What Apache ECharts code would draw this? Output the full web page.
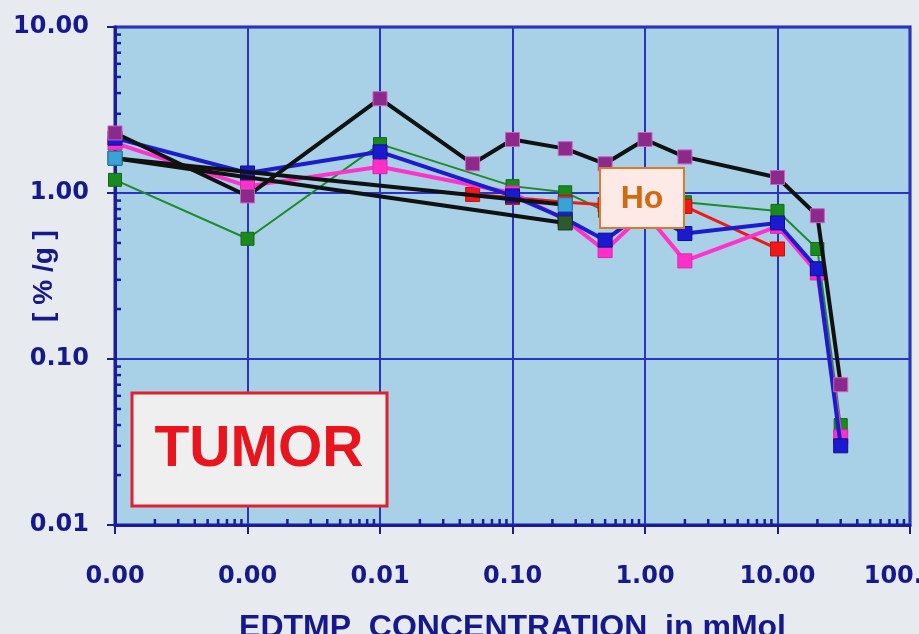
<!DOCTYPE html>
<html>
<head>
<meta charset="utf-8">
<script src="https://cdn.jsdelivr.net/npm/echarts@6/dist/echarts.min.js"></script>
<style>
html,body{margin:0;padding:0;background:#e7ebef;}
#chart{width:919px;height:634px;}
</style>
</head>
<body>
<div id="chart"></div>
<script>
// ---- data ----
const xTickLabels = ['0.00','0.00','0.01','0.10','1.00','10.00','100.00'];
const xAxisTitle = 'EDTMP  CONCENTRATION  in mMol';
const yAxisTitle = '[ % /g ]';

const purpleX = [0.0001, 0.001, 0.01, 0.05, 0.1, 0.25, 0.5, 1, 2, 10, 20, 30];
const purpleY = [2.3, 0.96, 3.7, 1.5, 2.1, 1.85, 1.5, 2.1, 1.65, 1.24, 0.73, 0.070];

const greenX = [0.0001, 0.001, 0.01, 0.1, 0.25, 0.5, 1, 2, 10, 20, 30];
const greenY = [1.2, 0.53, 1.97, 1.1, 1.01, 0.78, 1.3, 0.88, 0.78, 0.46, 0.040];

const blueX = [0.0001, 0.001, 0.01, 0.1, 0.25, 0.5, 1, 2, 10, 20, 30];
const blueY = [2.14, 1.32, 1.77, 0.96, 0.70, 0.52, 0.78, 0.57, 0.66, 0.35, 0.030];

const pinkX = [0.0001, 0.001, 0.01, 0.1, 0.25, 0.5, 1, 2, 10, 20, 30];
const pinkY = [2.0, 1.1, 1.44, 1.0, 0.69, 0.45, 0.76, 0.39, 0.63, 0.33, 0.034];

const redX = [0.05, 0.1, 0.25, 0.5, 1, 2, 10];
const redY = [0.98, 0.94, 0.88, 0.85, 0.87, 0.83, 0.46];

const blackAX = [0.0001, 0.25];
const blackAY = [1.62, 0.66];

const blackBX = [0.0001, 0.25];
const blackBY = [1.62, 0.85];

// minor tick positions (axis decoration)
const decades = [0.0001, 0.001, 0.01, 0.1, 1, 10];
const minorMult = [2, 3, 4, 5, 6, 7, 8, 9];
const xMinor = [];
decades.forEach(d => minorMult.forEach(m => xMinor.push(d * m)));
const yDecades = [0.01, 0.1, 1];
const yMinor = [];
yDecades.forEach(d => minorMult.forEach(m => yMinor.push(d * m)));

// ---- styling ----
const axisColor = '#1a1c9c';
const gridColor = '#2a34c4';
const labelColor = '#16198c';
const FONT = 'DejaVu Sans';
const TFONT = 'Liberation Sans';

function pairs(xs, ys){ return xs.map((x,i)=>[x, ys[i]]); }

function lineSeries(name, xs, ys, lineColor, lw, markColor, markBorder, size, z){
  return {
    name, type:'line', data: pairs(xs, ys),
    symbol:'rect', symbolSize:size, showSymbol:true,
    lineStyle:{color:lineColor, width:lw},
    itemStyle:{color:markColor, borderColor:markBorder, borderWidth:1, opacity:1},
    z, animation:false, silent:true
  };
}

const chart = echarts.init(document.getElementById('chart'), null, {renderer:'canvas'});

const option = {
  backgroundColor:'#e7ebef',
  animation:false,
  grid:{left:115, right:9, top:27, bottom:109, containLabel:false, outerBoundsMode:'none',
    show:true, backgroundColor:'#a8d0e6', borderColor:axisColor, borderWidth:3},
  xAxis:{
    type:'log', logBase:10, min:0.0001, max:100,
    name:xAxisTitle, nameLocation:'middle', nameGap:87, nameMoveOverlap:false,
    nameTextStyle:{color:labelColor, fontFamily:TFONT, fontWeight:'bold', fontSize:32},
    axisLine:{show:true, lineStyle:{color:axisColor, width:3}},
    axisTick:{show:true, inside:false, length:9, lineStyle:{color:axisColor, width:2}},
    axisLabel:{color:labelColor, fontFamily:FONT, fontWeight:'bold', fontSize:24, margin:40,
      hideOverlap:false,
      formatter:(v, i)=> xTickLabels[i] !== undefined ? xTickLabels[i] : ''},
    splitLine:{show:true, lineStyle:{color:gridColor, width:2}}
  },
  yAxis:{
    type:'log', logBase:10, min:0.01, max:10,
    name:yAxisTitle, nameLocation:'middle', nameGap:57, nameRotate:90, nameMoveOverlap:false,
    nameTextStyle:{color:labelColor, fontFamily:TFONT, fontWeight:'bold', fontSize:28},
    axisLine:{show:true, lineStyle:{color:axisColor, width:3}},
    axisTick:{show:true, inside:false, length:8, lineStyle:{color:axisColor, width:2}},
    axisLabel:{color:labelColor, fontFamily:FONT, fontWeight:'bold', fontSize:24, margin:26,
      formatter:v=>v.toFixed(2)},
    splitLine:{show:true, lineStyle:{color:gridColor, width:2}}
  },
  series:[
    {type:'custom', silent:true, z:5, clip:false, data: xMinor.map(v=>[v, 0.01]),
      renderItem:(p, api)=>{const c=api.coord([api.value(0), api.value(1)]);
        return {type:'line', shape:{x1:c[0], y1:c[1], x2:c[0], y2:c[1]-6}, style:{stroke:axisColor, lineWidth:2.5}};}},
    {type:'custom', silent:true, z:5, clip:false, data: yMinor.map(v=>[0.0001, v]),
      renderItem:(p, api)=>{const c=api.coord([api.value(0), api.value(1)]);
        return {type:'line', shape:{x1:c[0], y1:c[1], x2:c[0]+6, y2:c[1]}, style:{stroke:axisColor, lineWidth:2.5}};}},
    lineSeries('green', greenX, greenY, '#1f8a2a', 2, '#1a8a1e', '#126a16', 13, 10),
    lineSeries('red', redX, redY, '#ee1a1a', 3, '#f01818', '#c01010', 14, 11),
    lineSeries('pink', pinkX, pinkY, '#ff33cc', 4, '#ff30c8', '#e020b0', 14, 12),
    lineSeries('blue', blueX, blueY, '#1c1ccc', 4, '#1a1ad0', '#10108a', 14, 13),
    lineSeries('blackA', blackAX, blackAY, '#111111', 4, '#2c5a2c', '#163a16', 14, 14),
    lineSeries('blackB', blackBX, blackBY, '#111111', 4, '#3aa2d4', '#1a78b0', 14, 15),
    lineSeries('purple', purpleX, purpleY, '#111111', 4, '#8c2a8c', '#d060c0', 14, 16)
  ],
  graphic:[
    {type:'rect', z:100, shape:{x:132, y:393, width:255, height:113},
      style:{fill:'#efefef', stroke:'#e2202c', lineWidth:3}},
    {type:'text', z:101, x:259, y:450, style:{text:'TUMOR', fill:'#e8141e', font:'bold 57px "Liberation Sans", Arial, sans-serif', textAlign:'center', textVerticalAlign:'middle'}},
    {type:'rect', z:100, shape:{x:600, y:168, width:84, height:60},
      style:{fill:'#fde9e5', stroke:'#d97a2c', lineWidth:2}},
    {type:'text', z:101, x:642, y:199, style:{text:'Ho', fill:'#d06a10', font:'bold 32px "Liberation Sans", Arial, sans-serif', textAlign:'center', textVerticalAlign:'middle'}}
  ]
};
chart.setOption(option);
</script>
</body>
</html>
